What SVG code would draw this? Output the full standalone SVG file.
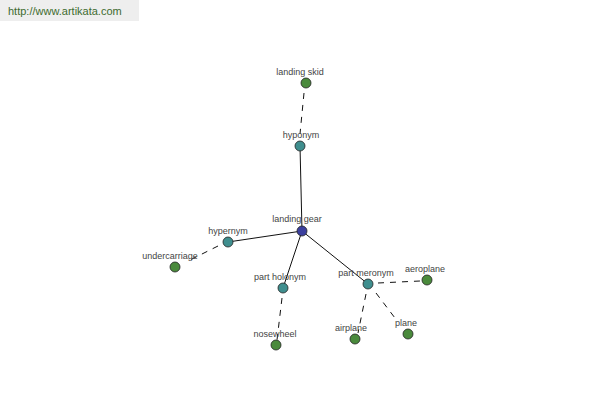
<svg xmlns="http://www.w3.org/2000/svg" width="600" height="400" viewBox="0 0 600 400">
<style>
text{font-family:"Liberation Sans",Arial,sans-serif;font-size:9px;fill:#444;text-anchor:middle}
.n circle{stroke:#222;stroke-width:0.8}
.leaf circle{fill:#4a8a3c}
.rel circle{fill:#3f8e8e}
.root circle{fill:#3b3f9e}
.solid{stroke:#111;stroke-width:1;fill:none}
.dash{stroke:#111;stroke-width:1;fill:none;stroke-dasharray:6,6}
</style>
<rect x="0" y="0" width="139" height="21" fill="#eeeeee"/>
<text x="8" y="15" style="font-size:11px;fill:#3d6b2f;text-anchor:start">http://www.artikata.com</text>
<g id="connectors">
<line class="solid" x1="302" y1="231" x2="300" y2="146"/>
<line class="solid" x1="302" y1="231" x2="228" y2="242"/>
<line class="solid" x1="302" y1="231" x2="283" y2="288"/>
<line class="solid" x1="302" y1="231" x2="368" y2="284"/>
<line class="dash" x1="304" y1="93" x2="300" y2="134"/>
<line class="dash" x1="218" y1="246" x2="186" y2="262"/>
<line class="dash" x1="282" y1="298" x2="277" y2="340"/>
<line class="dash" x1="378" y1="283" x2="420" y2="281"/>
<line class="dash" x1="366" y1="294" x2="358" y2="333"/>
<line class="dash" x1="376" y1="293" x2="398" y2="322"/>
</g>
<g id="landing-skid" class="n leaf"><circle cx="306" cy="83" r="5"/><text x="300" y="75">landing skid</text></g>
<g id="hyponym" class="n rel"><circle cx="300" cy="146" r="5"/><text x="301" y="138">hyponym</text></g>
<g id="landing-gear" class="n root"><circle cx="302" cy="231" r="5"/><text x="297" y="222">landing gear</text></g>
<g id="hypernym" class="n rel"><circle cx="228" cy="242" r="5"/><text x="228" y="234">hypernym</text></g>
<g id="undercarriage" class="n leaf"><circle cx="175" cy="267" r="5"/><text x="170" y="259">undercarriage</text></g>
<g id="part-holonym" class="n rel"><circle cx="283" cy="288" r="5"/><text x="280" y="280">part holonym</text></g>
<g id="nosewheel" class="n leaf"><circle cx="276" cy="345" r="5"/><text x="275" y="337">nosewheel</text></g>
<g id="part-meronym" class="n rel"><circle cx="368" cy="284" r="5"/><text x="366" y="276">part meronym</text></g>
<g id="aeroplane" class="n leaf"><circle cx="427" cy="280" r="5"/><text x="425" y="272">aeroplane</text></g>
<g id="airplane" class="n leaf"><circle cx="355" cy="339" r="5"/><text x="351" y="331">airplane</text></g>
<g id="plane" class="n leaf"><circle cx="408" cy="334" r="5"/><text x="406" y="326">plane</text></g>
</svg>
